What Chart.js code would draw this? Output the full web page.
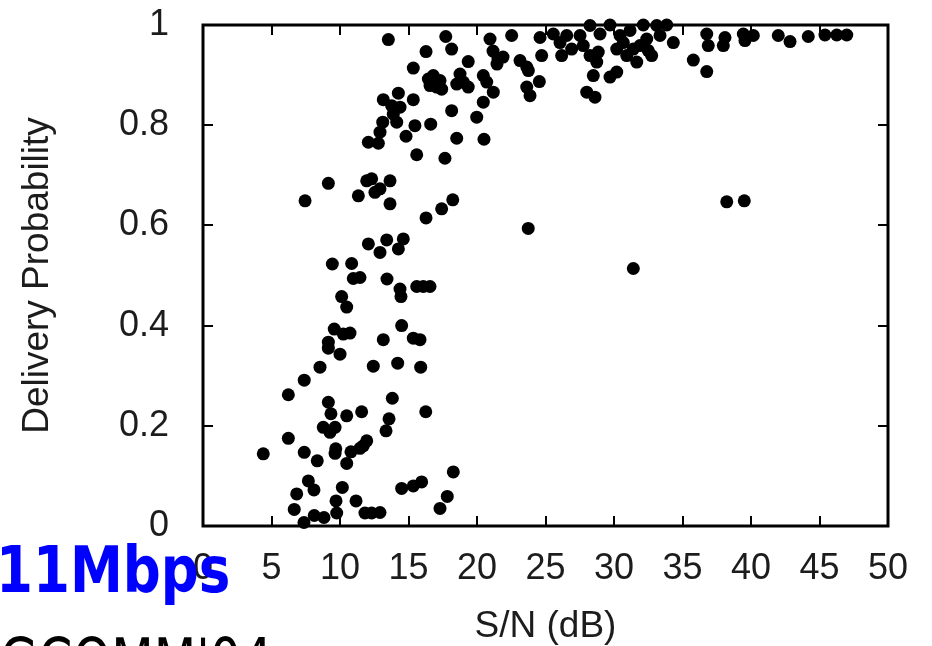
<!DOCTYPE html>
<html>
<head>
<meta charset="utf-8">
<script src="https://cdn.jsdelivr.net/npm/chart.js@4.4.1/dist/chart.umd.min.js"></script>
<style>
  html, body { margin: 0; padding: 0; background: #fff; }
  #wrap { position: relative; width: 932px; height: 646px; overflow: hidden; }
  #plot { position: absolute; left: 0; top: 0; }
  .stamp { position: absolute; white-space: nowrap; font-family: "DejaVu Sans"; font-size: 64px; line-height: 1; transform-origin: 0 0; }
  #rate { left: -4px; top: 538px; color: #0000ff; font-weight: bold; transform: scaleX(0.83); }
  #venue { left: -46px; top: 630px; color: #000; transform: scaleX(0.77); }
</style>
</head>
<body>
<div id="wrap">
  <canvas id="plot" width="932" height="646"></canvas>
  <div class="stamp" id="rate">11Mbps</div>
  <div class="stamp" id="venue">SIGCOMM'04</div>
</div>
<script>
// S/N (dB) of each link
const snrDb = [
  13.53, 17.72, 18.15, 16.28, 15.35, 19.36, 20.95, 22.53, 24.60, 24.72,
  21.17, 21.53, 21.90, 21.46, 23.14, 23.63, 24.55, 23.63, 23.87, 16.45,
  16.81, 17.30, 16.57, 17.06, 17.42, 18.76, 19.00, 18.52, 19.36, 20.46,
  20.71, 21.19, 20.46, 19.98, 20.51, 18.52, 18.15, 17.66, 15.60, 16.62,
  15.47, 14.82, 15.35, 14.26, 13.16, 13.77, 14.38, 13.89, 13.12, 14.14,
  12.92, 12.07, 12.80, 9.15, 7.45, 11.95, 12.31, 13.65, 12.92, 11.34,
  12.55, 13.65, 18.23, 17.42, 16.28, 23.74, 12.07, 13.41, 14.62, 12.92,
  14.26, 9.44, 10.85, 10.97, 11.46, 13.43, 14.38, 14.45, 15.60, 16.08,
  16.57, 10.12, 10.49, 14.50, 9.58, 10.24, 10.73, 9.15, 9.15, 10.00,
  13.16, 15.35, 15.84, 8.54, 12.43, 14.21, 15.89, 7.39, 6.23, 9.15,
  9.34, 10.49, 11.58, 13.82, 13.58, 13.36, 16.26, 8.78, 9.27, 9.64,
  6.23, 11.95, 11.70, 11.46, 4.40, 7.39, 8.34, 9.69, 9.64, 10.80,
  10.49, 18.27, 7.69, 8.10, 10.17, 14.50, 15.35, 15.96, 6.84, 17.83,
  17.30, 6.66, 9.71, 9.76, 11.17, 11.82, 12.31, 12.92, 8.12, 8.83,
  7.37, 23.75, 25.57, 26.18, 26.06, 26.55, 26.91, 27.52, 27.76, 28.25,
  28.25, 28.74, 28.85, 28.98, 28.49, 29.71, 30.20, 28.01, 28.61, 29.71,
  30.44, 30.68, 30.93, 30.20, 31.41, 31.66, 32.14, 32.39, 32.75, 33.12,
  33.36, 33.85, 34.33, 31.17, 31.90, 32.50, 35.79, 36.77, 36.77, 36.88,
  38.10, 37.98, 39.44, 39.56, 40.17, 41.99, 42.85, 44.18, 45.40, 46.26,
  46.99, 38.23, 39.51, 31.41
];

// delivery probability of the same links
const deliveryProb = [
  0.971, 0.977, 0.952, 0.947, 0.914, 0.927, 0.972, 0.979, 0.975, 0.939,
  0.948, 0.932, 0.936, 0.922, 0.929, 0.916, 0.887, 0.876, 0.859, 0.892,
  0.899, 0.889, 0.879, 0.876, 0.872, 0.902, 0.886, 0.882, 0.876, 0.899,
  0.886, 0.866, 0.846, 0.816, 0.772, 0.774, 0.829, 0.734, 0.741, 0.802,
  0.799, 0.778, 0.851, 0.864, 0.851, 0.839, 0.836, 0.822, 0.806, 0.806,
  0.786, 0.766, 0.764, 0.684, 0.649, 0.689, 0.693, 0.689, 0.673, 0.659,
  0.666, 0.643, 0.651, 0.633, 0.615, 0.594, 0.563, 0.571, 0.573, 0.546,
  0.553, 0.523, 0.524, 0.494, 0.496, 0.493, 0.473, 0.458, 0.478, 0.478,
  0.478, 0.458, 0.437, 0.400, 0.393, 0.383, 0.385, 0.367, 0.355, 0.343,
  0.372, 0.375, 0.372, 0.317, 0.319, 0.325, 0.317, 0.291, 0.262, 0.247,
  0.224, 0.220, 0.228, 0.255, 0.214, 0.190, 0.228, 0.197, 0.187, 0.197,
  0.175, 0.170, 0.160, 0.155, 0.144, 0.147, 0.130, 0.154, 0.145, 0.148,
  0.125, 0.108, 0.090, 0.072, 0.077, 0.075, 0.080, 0.088, 0.064, 0.059,
  0.035, 0.033, 0.050, 0.026, 0.050, 0.026, 0.026, 0.027, 0.021, 0.017,
  0.007, 0.909, 0.982, 0.939, 0.965, 0.979, 0.952, 0.979, 0.959, 0.999,
  0.939, 0.926, 0.946, 0.982, 0.899, 0.896, 0.906, 0.866, 0.856, 1.000,
  0.979, 0.965, 0.939, 0.952, 0.952, 0.926, 1.000, 0.972, 0.939, 0.999,
  0.979, 1.000, 0.965, 0.989, 0.959, 0.949, 0.930, 0.907, 0.982, 0.959,
  0.975, 0.959, 0.982, 0.969, 0.979, 0.979, 0.967, 0.977, 0.980, 0.980,
  0.980, 0.647, 0.649, 0.514
];

const xRange = [0, 50];
const xStep = 5;
const yRange = [0, 1];
const yStep = 0.2;

// gnuplot look: closed frame, ticks pointing inward on all four sides
const framePlugin = {
  id: 'frame',
  beforeDatasetsDraw(chart) {
    const { ctx, chartArea: a, scales } = chart;
    const len = 10;
    ctx.save();
    ctx.strokeStyle = '#000';
    ctx.lineWidth = 2;
    scales.x.ticks.forEach((t) => {
      const px = Math.round(scales.x.getPixelForValue(t.value));
      ctx.beginPath();
      ctx.moveTo(px, a.bottom); ctx.lineTo(px, a.bottom - len);
      ctx.moveTo(px, a.top); ctx.lineTo(px, a.top + len);
      ctx.stroke();
    });
    scales.y.ticks.forEach((t) => {
      const py = Math.round(scales.y.getPixelForValue(t.value));
      ctx.beginPath();
      ctx.moveTo(a.left, py); ctx.lineTo(a.left + len, py);
      ctx.moveTo(a.right, py); ctx.lineTo(a.right - len, py);
      ctx.stroke();
    });
    ctx.lineWidth = 3;
    ctx.strokeRect(a.left, a.top, a.right - a.left, a.bottom - a.top);
    ctx.restore();
  },
};

const tickFont = { family: '"Liberation Sans", Arial, sans-serif', size: 36 };
const titleFont = { family: '"Liberation Sans", Arial, sans-serif', size: 37 };

new Chart(document.getElementById('plot'), {
  type: 'scatter',
  data: {
    datasets: [{
      data: snrDb.map((x, i) => ({ x, y: deliveryProb[i] })),
      backgroundColor: '#000',
      borderWidth: 0,
      pointRadius: 6.5,
      clip: false,
    }],
  },
  options: {
    responsive: false,
    animation: false,
    devicePixelRatio: 1,
    layout: { padding: { left: 0, right: 44, top: 25, bottom: 0 } },
    plugins: { legend: { display: false }, tooltip: { enabled: false } },
    scales: {
      x: {
        type: 'linear', min: xRange[0], max: xRange[1],
        grid: { display: false }, border: { display: false },
        ticks: { stepSize: xStep, color: '#1c1c1c', font: tickFont, padding: 13, maxRotation: 0 },
        title: { display: true, text: 'S/N (dB)', color: '#1c1c1c', font: titleFont, padding: { top: 0, bottom: -3 } },
        afterFit(scale) { scale.height = 120; },
      },
      y: {
        type: 'linear', min: yRange[0], max: yRange[1],
        grid: { display: false }, border: { display: false },
        ticks: { stepSize: yStep, color: '#1c1c1c', font: tickFont, padding: 26, callback: (v) => String(Math.round(v * 10) / 10) },
        title: { display: true, text: 'Delivery Probability', color: '#1c1c1c', font: titleFont, padding: { top: 16, bottom: 0 } },
        afterFit(scale) { scale.width = 203; scale.paddingTop = 0; scale.paddingBottom = 0; },
      },
    },
  },
  plugins: [framePlugin],
});
</script>
</body>
</html>
